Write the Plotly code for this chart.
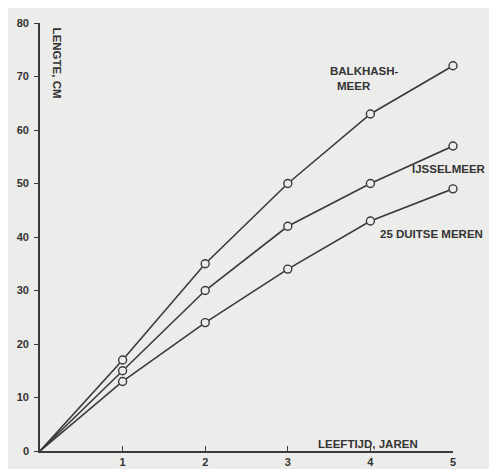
import plotly.graph_objects as go

ages = [0, 1, 2, 3, 4, 5]
balkhash = [0, 17, 35, 50, 63, 72]
ijsselmeer = [0, 15, 30, 42, 50, 57]
duitse = [0, 13, 24, 34, 43, 49]
y_ticks = [0, 10, 20, 30, 40, 50, 60, 70, 80]
x_ticks = [1, 2, 3, 4, 5]

LINE = "#3a3a3a"
BG = "#ececea"

fig = go.Figure()
for name, vals in [("Balkhash-meer", balkhash), ("IJsselmeer", ijsselmeer), ("25 Duitse meren", duitse)]:
    fig.add_trace(go.Scatter(
        x=ages, y=vals, mode="lines", name=name,
        line=dict(color=LINE, width=1.6), showlegend=False, cliponaxis=False,
    ))
    fig.add_trace(go.Scatter(
        x=ages[1:], y=vals[1:], mode="markers", name=name,
        marker=dict(symbol="circle", size=8, color=BG, line=dict(color=LINE, width=1.4)),
        showlegend=False, cliponaxis=False,
    ))

font_lbl = dict(family="Liberation Sans, Arial", size=11.5, color="#333333", weight="bold")
ann = [
    dict(x=3.93, y=71.0, text="BALKHASH-"),
    dict(x=3.8, y=68.3, text="MEER"),
    dict(x=4.74, y=40.6, text="25 DUITSE MEREN"),
    dict(x=3.97, y=1.3, text="LEEFTIJD, JAREN"),
]
for a in ann:
    fig.add_annotation(x=a["x"], y=a["y"], text=a["text"], showarrow=False,
                       xref="x", yref="y", font=font_lbl)
fig.add_annotation(x=1.085, y=52.7 / 80, text="IJSSELMEER", showarrow=False,
                   xref="paper", yref="paper", xanchor="right", yanchor="middle",
                   font=font_lbl)
fig.add_annotation(x=0.2, y=72.5, text="LENGTE, CM", textangle=90, showarrow=False,
                   xref="x", yref="y", font=font_lbl)

tickfont = dict(family="Liberation Sans, Arial", size=11, color="#333333", weight="bold")
fig.update_xaxes(range=[0, 5], tickvals=x_ticks, ticks="inside", ticklen=5,
                 tickcolor=LINE, showline=True, linecolor=LINE, linewidth=1.6,
                 showgrid=False, zeroline=False, tickfont=tickfont, ticklabelstandoff=0)
fig.update_yaxes(range=[0, 80], tickvals=y_ticks, ticks="outside", ticklen=4,
                 tickcolor=LINE, showline=True, linecolor=LINE, linewidth=1.6,
                 showgrid=False, zeroline=False, tickfont=tickfont, ticklabelstandoff=3)

fig.update_layout(
    width=497, height=469,
    margin=dict(l=30, r=52, t=9, b=12),
    paper_bgcolor=BG, plot_bgcolor=BG,
)
fig.write_html("out.html")
